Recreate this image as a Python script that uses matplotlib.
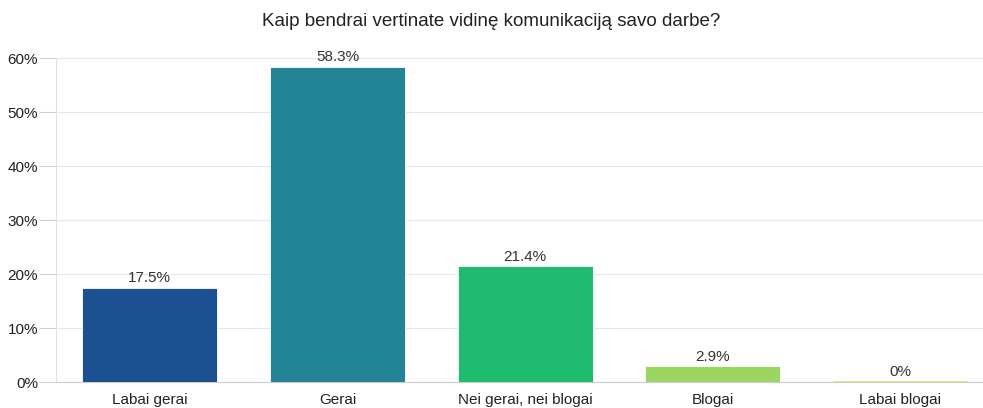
import matplotlib.pyplot as plt

plt.rcParams['font.family'] = ['Liberation Sans', 'DejaVu Sans']

categories = ["Labai gerai", "Gerai", "Nei gerai, nei blogai", "Blogai", "Labai blogai"]
values = [17.5, 58.3, 21.4, 2.9, 0.0]
labels = ["17.5%", "58.3%", "21.4%", "2.9%", "0%"]
colors = ["#1b5190", "#238497", "#1fbb6e", "#9bd660", "#dcef6c"]
yticks = [0, 10, 20, 30, 40, 50, 60]

fig = plt.figure(figsize=(9.83, 4.08), dpi=100)
ax = fig.add_axes([56 / 983, 26 / 408, 927 / 983, 324 / 408])

x = range(len(categories))
ax.bar(x, values, width=0.72, color=colors, edgecolor="#ffffff", linewidth=0.6, zorder=3)
ax.bar(4, 0.25, width=0.72, color=colors[4], zorder=3)

for i, (v, lab) in enumerate(zip(values, labels)):
    ax.text(i, v + 0.5, lab, ha="center", va="bottom", fontsize=11, color="#333333", zorder=4)

ax.set_xlim(-0.5, 4.44)
ax.set_ylim(0, 60)
ax.set_yticks(yticks)
ax.set_yticklabels([f"{t}%" for t in yticks], fontsize=11, color="#222222")
ax.set_xticks(list(x))
ax.set_xticklabels(categories, fontsize=11, color="#222222")
ax.tick_params(axis="x", length=0, pad=8)
ax.tick_params(axis="y", length=12, color="#d0d0d0", width=0.8, pad=1)

ax.grid(axis="y", color="#e6e6e6", linewidth=0.8, zorder=0)
for s in ["top", "right"]:
    ax.spines[s].set_visible(False)
ax.spines["left"].set_color("#e0e0e0")
ax.spines["bottom"].set_color("#cccccc")

fig.text(0.5, 1 - 22 / 408, "Kaip bendrai vertinate vidinę komunikaciją savo darbe?",
         ha="center", va="center", fontsize=13.5, color="#222222")

fig.savefig("out.png", dpi=100)
